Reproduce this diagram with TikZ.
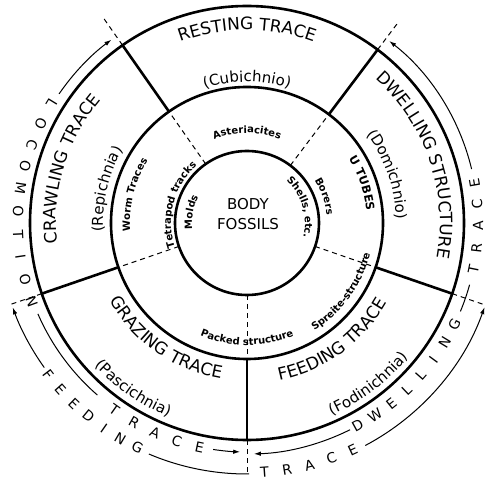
\documentclass[tikz,border=0pt]{standalone}
\usepackage{fontspec}
\setmainfont{DejaVu Sans}
\usepackage{tikz}
\usetikzlibrary{arrows.meta, decorations.text}

\newcommand{\titlefont}{\fontsize{17}{20}\selectfont}
\newcommand{\latinfont}{\fontsize{15}{18}\selectfont}
\newcommand{\smallfont}{\bfseries\fontsize{10}{12}\selectfont}
\newcommand{\tubefont}{\bfseries\fontsize{11.5}{14}\selectfont}

% text on an arc, letters facing outwards (read clockwise)
\newcommand{\outtext}[4]{%
  \path[decorate, decoration={text along path, text align=center, text={|#3|#4}}]
    ({#2+70}:#1) arc[start angle={#2+70}, end angle={#2-70}, radius=#1];}
% text on an arc, letters facing the centre (read anticlockwise)
\newcommand{\intext}[4]{%
  \path[decorate, decoration={text along path, text align=center, text={|#3|#4}}]
    ({#2-70}:#1) arc[start angle={#2-70}, end angle={#2+70}, radius=#1];}

\begin{document}
\begin{tikzpicture}[
  x=1pt, y=1pt,
  ring/.style={line width=2.6pt},
  divider/.style={line width=2.6pt},
  guide/.style={line width=1pt, dash pattern=on 5pt off 4pt},
  trackline/.style={line width=1pt},
  trackarrow/.style={trackline, -{Latex[length=7pt, width=4.5pt]}},
  letter/.style={font=\fontsize{14}{16}\selectfont, inner sep=0pt}
]
\useasboundingbox (-247,-263) rectangle (247,223);

% rings
\draw[ring] (0,0) circle[radius=217];
\draw[ring] (0,0) circle[radius=136];
\draw[ring] (0,0) circle[radius=72];

% sector borders
\foreach \a in {125,53,-19,-90,199} {
  \draw[divider] (\a:136) -- (\a:217);
  \draw[guide] (\a:72) -- (\a:136);
  \draw[guide] (\a:217) -- (\a:250);
}

\node[font=\fontsize{15}{20}\selectfont, align=center] (body) at (1,9) {BODY\\FOSSILS};

% outer sectors
\outtext{193}{90}{\titlefont}{RESTING TRACE}
\outtext{141}{90}{\latinfont}{(Cubichnio)}
\outtext{191}{163}{\titlefont}{CRAWLING TRACE}
\outtext{144}{166.5}{\latinfont}{(Repichnia)}
\outtext{193}{19}{\titlefont}{DWELLING STRUCTURE}
\outtext{149}{19}{\latinfont}{(Domichnio)}
\intext{158}{235}{\titlefont}{GRAZING TRACE}
\intext{209}{235.5}{\latinfont}{(Pascichnia)}
\intext{161}{306}{\titlefont}{FEEDING TRACE}
\intext{210}{307}{\latinfont}{(Fodinichnia)}

% inner ring
\outtext{90}{90}{\smallfont}{Asteriacites}
\outtext{117}{166}{\smallfont}{Worm Traces}
\outtext{76}{165}{\smallfont}{Tetrapod tracks}
\outtext{55}{169}{\smallfont}{Molds}
\outtext{58}{16.5}{\smallfont}{Shells, etc.}
\outtext{80}{19}{\smallfont}{Borers}
\outtext{120}{19}{\tubefont}{U TUBES}
\intext{122}{270}{\smallfont}{Packed structure}
\intext{127}{324}{\smallfont}{Spreite-structure}

% behaviour groups round the outside
\foreach \ch [count=\i from 0] in {L,O,C,O,M,O,T,I,O,N}
  \node[letter, rotate={148.5+5.72*\i+90}] (loco-\i) at ({148.5+5.72*\i}:229) {\ch};
\foreach \ch [count=\i from 0] in {T,R,A,C,E}
  \node[letter, rotate={234.6+5.85*\i+90}] (locotrace-\i) at ({234.6+5.85*\i}:229) {\ch};
\foreach \ch [count=\i from 0] in {D,W,E,L,L,I,N,G}
  \node[letter, rotate={298.6+5.04*\i+90}] (dwell-\i) at ({298.6+5.04*\i}:231) {\ch};
\foreach \ch [count=\i from 0] in {T,R,A,C,E}
  \node[letter, rotate={348.5+5.375*\i+90}] (dwelltrace-\i) at ({348.5+5.375*\i}:231) {\ch};
\foreach \ch [count=\i from 0] in {F,E,E,D,I,N,G}
  \node[letter, rotate={217.3+4.45*\i+90}] (feed-\i) at ({217.3+4.45*\i}:250) {\ch};
\foreach \ch [count=\i from 0] in {T,R,A,C,E}
  \node[letter, rotate={274+5.25*\i+90}] (feedtrace-\i) at ({274+5.25*\i}:250) {\ch};

\draw[trackarrow] (145.5:228) arc[start angle=145.5, end angle=126.5, radius=228];
\draw[trackline] (203.5:228) arc[start angle=203.5, end angle=229, radius=228];
\draw[trackarrow] (261.5:229) arc[start angle=261.5, end angle=268.3, radius=229];
\draw[trackarrow] (296.5:231) arc[start angle=296.5, end angle=271.7, radius=231];
\draw[trackline] (337.5:231) arc[start angle=337.5, end angle=344.5, radius=231];
\draw[trackarrow] (13.5:231) arc[start angle=13.5, end angle=52, radius=231];
\draw[trackarrow] (215.5:249) arc[start angle=215.5, end angle=199.8, radius=249];
\draw[trackline] (247:251) arc[start angle=247, end angle=270.5, radius=251];
\draw[trackarrow] (298:252) arc[start angle=298, end angle=340.5, radius=252];
\end{tikzpicture}
\end{document}
